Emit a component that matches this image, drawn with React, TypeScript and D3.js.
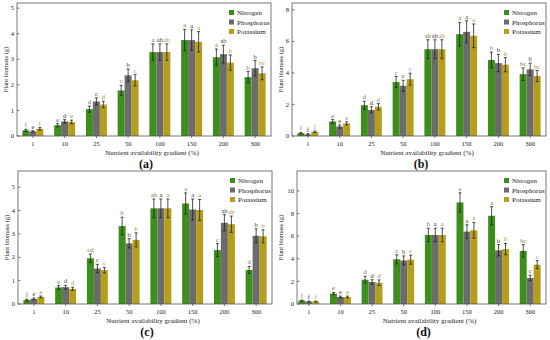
import * as d3 from "d3";

const gradients = ["1", "10", "25", "50", "100", "150", "200", "300"];
const series = ["Nitrogen", "Phosphorus", "Potassium"];
const colors = ["#3d8f1c", "#6c6c6c", "#b59e1c"];
const letterColors = ["#4a8a2a", "#333333", "#b08a20"];

// panel (a)
const aN = [0.22, 0.42, 1.05, 1.78, 3.28, 3.75, 3.08, 2.3];
const aP = [0.18, 0.57, 1.35, 2.37, 3.28, 3.75, 3.2, 2.65];
const aK = [0.28, 0.55, 1.23, 2.18, 3.28, 3.68, 2.87, 2.45];
const aErrN = [0.04, 0.06, 0.12, 0.2, 0.32, 0.42, 0.32, 0.22];
const aErrP = [0.03, 0.07, 0.14, 0.25, 0.32, 0.4, 0.35, 0.3];
const aErrK = [0.05, 0.07, 0.13, 0.22, 0.32, 0.4, 0.3, 0.25];
const aLetN = ["f", "e", "d", "c", "a", "a", "a", "b"];
const aLetP = ["e", "d", "c", "b", "ab", "a", "ab", "b"];
const aLetK = ["f", "e", "d", "c", "ab", "a", "b", "bc"];

// panel (b)
const bN = [0.18, 0.92, 1.95, 3.42, 5.5, 6.45, 4.82, 3.92];
const bP = [0.1, 0.6, 1.65, 3.18, 5.5, 6.6, 4.62, 4.22];
const bK = [0.27, 0.8, 1.85, 3.6, 5.5, 6.35, 4.52, 3.8];
const bErrN = [0.05, 0.12, 0.25, 0.35, 0.6, 0.75, 0.5, 0.4];
const bErrP = [0.04, 0.1, 0.2, 0.35, 0.6, 0.7, 0.55, 0.4];
const bErrK = [0.05, 0.1, 0.2, 0.38, 0.6, 0.75, 0.45, 0.35];
const bLetN = ["f", "e", "d", "c", "ab", "a", "b", "bc"];
const bLetP = ["f", "e", "d", "c", "ab", "a", "b", "b"];
const bLetK = ["f", "e", "d", "c", "ab", "a", "b", "bc"];

// panel (c)
const cN = [0.17, 0.71, 1.96, 3.34, 4.1, 4.31, 2.31, 1.46];
const cP = [0.22, 0.72, 1.52, 2.6, 4.1, 4.05, 3.48, 2.92];
const cK = [0.3, 0.65, 1.45, 2.75, 4.1, 4.03, 3.42, 2.9];
const cErrN = [0.04, 0.08, 0.18, 0.38, 0.4, 0.45, 0.28, 0.15];
const cErrP = [0.04, 0.08, 0.18, 0.2, 0.4, 0.45, 0.35, 0.3];
const cErrK = [0.04, 0.07, 0.12, 0.3, 0.4, 0.45, 0.35, 0.28];
const cLetN = ["f", "e", "cd", "b", "ab", "a", "c", "d"];
const cLetP = ["e", "d", "c", "b", "a", "a", "ab", "b"];
const cLetK = ["e", "d", "c", "b", "a", "a", "ab", "b"];

// panel (d)
const dN = [0.3, 0.92, 2.15, 3.95, 6.1, 8.98, 7.8, 4.7];
const dP = [0.22, 0.62, 1.95, 3.85, 6.1, 6.4, 4.75, 2.3];
const dK = [0.22, 0.62, 1.88, 3.92, 6.1, 6.52, 4.85, 3.48];
const dErrN = [0.05, 0.1, 0.3, 0.4, 0.6, 0.85, 0.8, 0.55];
const dErrP = [0.04, 0.08, 0.2, 0.4, 0.6, 0.6, 0.5, 0.25];
const dErrK = [0.04, 0.08, 0.25, 0.4, 0.6, 0.7, 0.5, 0.35];
const dLetN = ["f", "e", "d", "c", "b", "a", "a", "bc"];
const dLetP = ["f", "e", "d", "b", "a", "a", "b", "c"];
const dLetK = ["f", "e", "d", "c", "a", "a", "b", "c"];

type PanelProps = {
  label: string;
  left: number;
  bandLeft: number;
  right: number;
  top: number;
  bottom: number;
  yMax: number;
  yTicks: number[];
  titleX: number;
  values: number[][];
  errors: number[][];
  letters: string[][];
};

const font = "Liberation Serif, Times New Roman, serif";

function Panel(p: PanelProps) {
  const x = d3
    .scaleBand()
    .domain(gradients)
    .range([p.bandLeft, p.right])
    .paddingInner(0.34)
    .paddingOuter(0.17);
  const xs = d3.scaleBand().domain(series).range([0, x.bandwidth()]);
  const y = d3.scaleLinear().domain([0, p.yMax]).range([p.bottom, p.top]);
  const midX = (p.left + p.right) / 2;

  return (
    <g fontFamily={font}>
      {series.map((s, si) =>
        gradients.map((g, gi) => {
          const v = p.values[si][gi];
          const e = p.errors[si][gi];
          const bx = (x(g) ?? 0) + (xs(s) ?? 0);
          const cx = bx + xs.bandwidth() / 2;
          return (
            <g key={s + g}>
              <rect
                x={bx}
                y={y(v)}
                width={xs.bandwidth()}
                height={y(0) - y(v)}
                fill={colors[si]}
              />
              <line x1={cx} x2={cx} y1={y(v - e)} y2={y(v + e)} stroke="#222" strokeWidth={0.8} />
              <line x1={cx - 1.5} x2={cx + 1.5} y1={y(v + e)} y2={y(v + e)} stroke="#222" strokeWidth={0.8} />
              <line x1={cx - 1.5} x2={cx + 1.5} y1={y(v - e)} y2={y(v - e)} stroke="#222" strokeWidth={0.8} />
              <text
                x={cx}
                y={y(v + e) - 2}
                textAnchor="middle"
                fontSize={6.5}
                fill={letterColors[si]}
              >
                {p.letters[si][gi]}
              </text>
            </g>
          );
        })
      )}
      <rect
        x={p.left}
        y={p.top}
        width={p.right - p.left}
        height={p.bottom - p.top}
        fill="none"
        stroke="#555"
        strokeWidth={0.8}
      />
      {p.yTicks.map((t) => (
        <g key={t}>
          <line x1={p.left} x2={p.left + 2.5} y1={y(t)} y2={y(t)} stroke="#555" strokeWidth={0.8} />
          <text x={p.left - 3} y={y(t)} dy="0.33em" textAnchor="end" fontSize={6.5} fill="#222">
            {t}
          </text>
        </g>
      ))}
      {gradients.map((g) => {
        const cx = (x(g) ?? 0) + x.bandwidth() / 2;
        return (
          <g key={g}>
            <line x1={cx} x2={cx} y1={p.bottom} y2={p.bottom + 2} stroke="#555" strokeWidth={0.8} />
            <text x={cx} y={p.bottom + 10} textAnchor="middle" fontSize={6.5} fill="#222">
              {g}
            </text>
          </g>
        );
      })}
      <text
        transform={`translate(${p.titleX},${(p.top + p.bottom) / 2}) rotate(-90)`}
        textAnchor="middle"
        fontSize={6.5}
        fill="#222"
      >
        Plant biomass (g)
      </text>
      <text x={midX + 8} y={p.bottom + 19} textAnchor="middle" fontSize={7} fill="#222">
        Nutrient availability gradient (%)
      </text>
      <text x={midX + 2} y={p.bottom + 32} textAnchor="middle" fontSize={12} fontWeight="bold" fill="#111">
        {p.label}
      </text>
      {series.map((s, si) => (
        <g key={s} transform={`translate(${p.right - 42},${p.top + 10 + si * 9.5})`}>
          <rect x={0} y={-3} width={5} height={5} fill={colors[si]} />
          <text x={8} y={0} dy="0.33em" fontSize={7} fill="#222">
            {s}
          </text>
        </g>
      ))}
    </g>
  );
}

export default function App() {
  return (
    <svg
      width={550}
      height={340}
      style={{ position: "absolute", left: 0, top: 0, display: "block", background: "#fff" }}
    >
      <Panel
        label="(a)"
        left={17}
        bandLeft={17}
        right={271}
        top={3}
        bottom={136}
        yMax={5.2}
        yTicks={[0, 1, 2, 3, 4, 5]}
        titleX={8}
        values={[aN, aP, aK]}
        errors={[aErrN, aErrP, aErrK]}
        letters={[aLetN, aLetP, aLetK]}
      />
      <Panel
        label="(b)"
        left={292}
        bandLeft={292}
        right={546}
        top={3}
        bottom={136}
        yMax={8.43}
        yTicks={[0, 2, 4, 6, 8]}
        titleX={283}
        values={[bN, bP, bK]}
        errors={[bErrN, bErrP, bErrK]}
        letters={[bLetN, bLetP, bLetK]}
      />
      <Panel
        label="(c)"
        left={18}
        bandLeft={18}
        right={272}
        top={171}
        bottom={304}
        yMax={5.7}
        yTicks={[0, 1, 2, 3, 4, 5]}
        titleX={9}
        values={[cN, cP, cK]}
        errors={[cErrN, cErrP, cErrK]}
        letters={[cLetN, cLetP, cLetK]}
      />
      <Panel
        label="(d)"
        left={297}
        bandLeft={293}
        right={546}
        top={171}
        bottom={304}
        yMax={11.76}
        yTicks={[0, 2, 4, 6, 8, 10]}
        titleX={283}
        values={[dN, dP, dK]}
        errors={[dErrN, dErrP, dErrK]}
        letters={[dLetN, dLetP, dLetK]}
      />
    </svg>
  );
}
